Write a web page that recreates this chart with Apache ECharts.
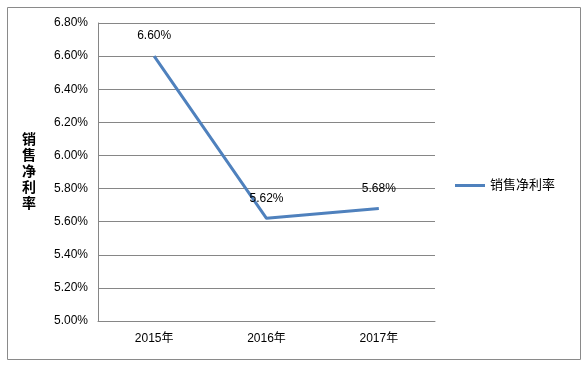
<!DOCTYPE html>
<html><head><meta charset="utf-8">
<script src="https://cdn.jsdelivr.net/npm/echarts@6/dist/echarts.min.js"></script>
<style>html,body{margin:0;padding:0;background:#fff}#c{width:584px;height:365px}</style>
</head><body><div id="c"></div>
<script>
const categories = ['2015年', '2016年', '2017年'];
const seriesName = '销售净利率';
const values = [6.60, 5.62, 5.68];
const yMin = 5.0, yMax = 6.8, yStep = 0.2;

const chart = echarts.init(document.getElementById('c'));
const font = '"Liberation Sans", "Noto Sans CJK SC", sans-serif';
chart.setOption({
  animation: false,
  textStyle: { fontFamily: font },
  graphic: [{
    type: 'rect', left: 5, top: 5, shape: { width: 573, height: 352 },
    style: { fill: 'none', stroke: '#8a8a8a', lineWidth: 1 }, silent: true
  }],
  grid: { left: 98, top: 23, width: 337, height: 298 },
  legend: {
    left: 450, top: 174, itemWidth: 30, itemHeight: 3, itemGap: 5,
    icon: 'rect',
    textStyle: { fontSize: 13, color: '#000', fontFamily: font },
    data: [seriesName]
  },
  xAxis: {
    type: 'category', data: categories, boundaryGap: true,
    axisLine: { lineStyle: { color: '#868686' } },
    axisTick: { show: false },
    axisLabel: { color: '#000', fontSize: 12, margin: 12, fontFamily: font }
  },
  yAxis: {
    type: 'value', min: yMin, max: yMax, interval: yStep,
    name: seriesName.split('').join('\n'),
    nameLocation: 'middle', nameRotate: 0, nameGap: 62,
    nameTextStyle: { fontSize: 14, fontWeight: 'bold', color: '#000', lineHeight: 16,
      fontFamily: font, padding: [0, 0, 8, 0] },
    axisLine: { show: true, lineStyle: { color: '#868686' } },
    axisTick: { show: false },
    splitLine: { lineStyle: { color: '#868686' } },
    axisLabel: { color: '#000', fontSize: 12, margin: 10, fontFamily: font,
      formatter: v => v.toFixed(2) + '%' }
  },
  series: [{
    name: seriesName, type: 'line', data: values,
    symbol: 'circle', symbolSize: 0, showSymbol: true,
    lineStyle: { color: '#4F81BD', width: 3 },
    itemStyle: { color: '#4F81BD' },
    label: { show: true, position: 'top', distance: 14, color: '#000', fontSize: 12,
      fontFamily: font, formatter: p => p.value.toFixed(2) + '%' }
  }]
});
</script></body></html>
